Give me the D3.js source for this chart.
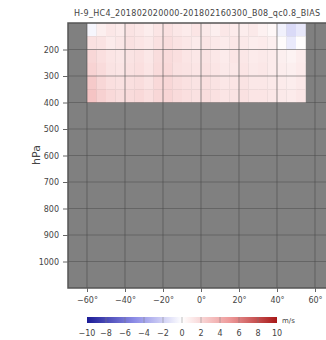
<!DOCTYPE html>
<html>
<head>
<meta charset="utf-8">
<script src="https://cdn.jsdelivr.net/npm/d3@7"></script>
<style>
  body { margin: 0; background: #fff; overflow: hidden; }
  svg { display: block; font-family: "DejaVu Sans", sans-serif; }
</style>
</head>
<body>
<div id="chart"></div>
<script>
// chart data
const title = "H-9_HC4_201802020000-201802160300_B08_qc0.8_BIAS";
const lonEdges = [-60, -55, -50, -45, -40, -35, -30, -25, -20, -15, -10, -5, 0, 5, 10, 15, 20, 25, 30, 35, 40, 45, 50, 55];
const presEdges = [100, 150, 200, 250, 300, 350, 400];
// bias (m/s), one row per pressure layer, one value per longitude bin
const bias100 = [-0.4, 0.8, 1.2, 1.0, 1.4, 1.2, 0.9, 1.3, 1.5, 1.2, 1.0, 1.3, 1.1, 0.8, 1.2, 1.0, 0.9, 1.1, 0.7, 0.4, -0.6, -1.6, -1.0];
const bias150 = [1.5, 1.4, 1.0, 1.2, 1.5, 1.3, 1.1, 1.5, 1.7, 1.4, 1.2, 1.0, 1.3, 1.1, 1.0, 1.2, 1.1, 0.9, 1.0, 0.8, 0.2, -0.9, 0.1];
const bias200 = [2.0, 1.6, 1.3, 1.2, 1.4, 1.5, 1.2, 1.7, 1.8, 1.6, 1.3, 1.2, 1.4, 1.2, 1.0, 1.3, 1.2, 1.0, 1.1, 1.0, 0.8, 0.6, 0.9];
const bias250 = [2.2, 1.8, 1.4, 1.3, 1.5, 1.6, 1.3, 1.8, 1.9, 1.5, 1.4, 1.3, 1.5, 1.3, 1.1, 1.2, 1.3, 1.1, 1.2, 1.0, 0.9, 0.8, 1.0];
const bias300 = [2.6, 2.0, 1.6, 1.5, 1.6, 1.7, 1.4, 1.9, 2.0, 1.7, 1.5, 1.4, 1.6, 1.4, 1.2, 1.3, 1.4, 1.2, 1.2, 1.1, 1.0, 0.9, 1.1];
const bias350 = [2.9, 2.3, 1.9, 1.7, 1.8, 1.9, 1.6, 2.0, 2.1, 1.8, 1.6, 1.5, 1.7, 1.5, 1.3, 1.4, 1.5, 1.3, 1.3, 1.2, 1.1, 1.0, 1.2];
const biasRows = [bias100, bias150, bias200, bias250, bias300, bias350];

const lonTicks = [-60, -40, -20, 0, 20, 40, 60];
const presTicks = [200, 300, 400, 500, 600, 700, 800, 900, 1000];
const cbarTicks = [-10, -8, -6, -4, -2, 0, 2, 4, 6, 8, 10];

const W = 326, H = 340;
const margin = { left: 68, top: 23, right: 334, bottom: 288 };

const svg = d3.select("#chart").append("svg")
    .attr("width", W)
    .attr("height", H);

// scales
const x = d3.scaleLinear().domain([-70, 70]).range([margin.left, margin.right]);
const y = d3.scaleLinear().domain([100, 1100]).range([margin.top, margin.bottom]);
const color = d3.scaleLinear()
    .domain([-10, -5, 0, 5, 10])
    .range(["#1c1c96", "#8c8ce6", "#ffffff", "#ee9a9a", "#a81818"])
    .clamp(true);

// title
svg.append("text")
    .attr("x", 74).attr("y", 16)
    .attr("font-size", 8)
    .attr("letter-spacing", 0.3)
    .attr("fill", "#444")
    .text(title);

// plot background
svg.append("rect")
    .attr("x", margin.left).attr("y", margin.top)
    .attr("width", margin.right - margin.left)
    .attr("height", margin.bottom - margin.top)
    .attr("fill", "#808080");

// heatmap cells
const cells = [];
biasRows.forEach((row, j) => {
    row.forEach((v, i) => {
        cells.push({ lon0: lonEdges[i], lon1: lonEdges[i + 1], p0: presEdges[j], p1: presEdges[j + 1], v: v });
    });
});

svg.append("g")
    .selectAll("rect")
    .data(cells)
    .join("rect")
    .attr("x", d => x(d.lon0))
    .attr("y", d => y(d.p0))
    .attr("width", d => x(d.lon1) - x(d.lon0) + 0.3)
    .attr("height", d => y(d.p1) - y(d.p0) + 0.3)
    .attr("fill", d => color(d.v));

// grid
const grid = svg.append("g")
    .attr("stroke", "#4a4a4a")
    .attr("stroke-opacity", 0.5)
    .attr("stroke-width", 1.2);

grid.selectAll("line.v")
    .data(lonTicks)
    .join("line")
    .attr("x1", d => x(d)).attr("x2", d => x(d))
    .attr("y1", margin.top).attr("y2", margin.bottom);

grid.selectAll("line.h")
    .data(presTicks)
    .join("line")
    .attr("x1", margin.left).attr("x2", margin.right)
    .attr("y1", d => y(d)).attr("y2", d => y(d));

// frame
svg.append("rect")
    .attr("x", margin.left).attr("y", margin.top)
    .attr("width", margin.right - margin.left)
    .attr("height", margin.bottom - margin.top)
    .attr("fill", "none")
    .attr("stroke", "#555")
    .attr("stroke-width", 1.5);

// axes
const yAxis = svg.append("g")
    .attr("transform", `translate(${margin.left},0)`)
    .call(d3.axisLeft(y).tickValues(presTicks).tickSize(5).tickPadding(4)
        .tickFormat(d => String(d)));

const xAxis = svg.append("g")
    .attr("transform", `translate(0,${margin.bottom})`)
    .call(d3.axisBottom(x).tickValues(lonTicks).tickSize(4).tickPadding(5)
        .tickFormat(d => (d < 0 ? "\u2212" + Math.abs(d) : d) + "\u00b0"));

[yAxis, xAxis].forEach(a => {
    a.select(".domain").remove();
    a.selectAll(".tick line").attr("stroke", "#666");
    a.selectAll(".tick text")
        .attr("font-size", 8)
        .attr("font-family", "DejaVu Sans, sans-serif")
        .attr("fill", "#444");
});

// y label
svg.append("text")
    .attr("transform", "translate(40,155) rotate(-90)")
    .attr("text-anchor", "middle")
    .attr("font-size", 11)
    .attr("fill", "#444")
    .text("hPa");

// colorbar
const cb = d3.scaleLinear().domain([-10, 10]).range([87, 277]);
const cbY = 317, cbH = 6;

const grad = svg.append("defs").append("linearGradient")
    .attr("id", "cbar")
    .attr("x1", "0%").attr("x2", "100%");
grad.selectAll("stop")
    .data(d3.range(-10, 10.01, 1))
    .join("stop")
    .attr("offset", d => ((d + 10) / 20 * 100) + "%")
    .attr("stop-color", d => color(d));

svg.append("rect")
    .attr("x", cb(-10)).attr("y", cbY)
    .attr("width", cb(10) - cb(-10)).attr("height", cbH)
    .attr("fill", "url(#cbar)");

svg.append("g")
    .selectAll("line")
    .data(cbarTicks.slice(1, -1))
    .join("line")
    .attr("x1", d => cb(d)).attr("x2", d => cb(d))
    .attr("y1", cbY).attr("y2", cbY + cbH)
    .attr("stroke", "#777")
    .attr("stroke-opacity", 0.6)
    .attr("stroke-width", 0.8);

svg.append("g")
    .selectAll("text")
    .data(cbarTicks)
    .join("text")
    .attr("x", d => cb(d))
    .attr("y", 336)
    .attr("text-anchor", "middle")
    .attr("font-size", 8)
    .attr("fill", "#444")
    .text(d => d < 0 ? "\u2212" + Math.abs(d) : d);

svg.append("text")
    .attr("x", 282).attr("y", 323)
    .attr("font-size", 7)
    .attr("fill", "#444")
    .text("m/s");
</script>
</body>
</html>
